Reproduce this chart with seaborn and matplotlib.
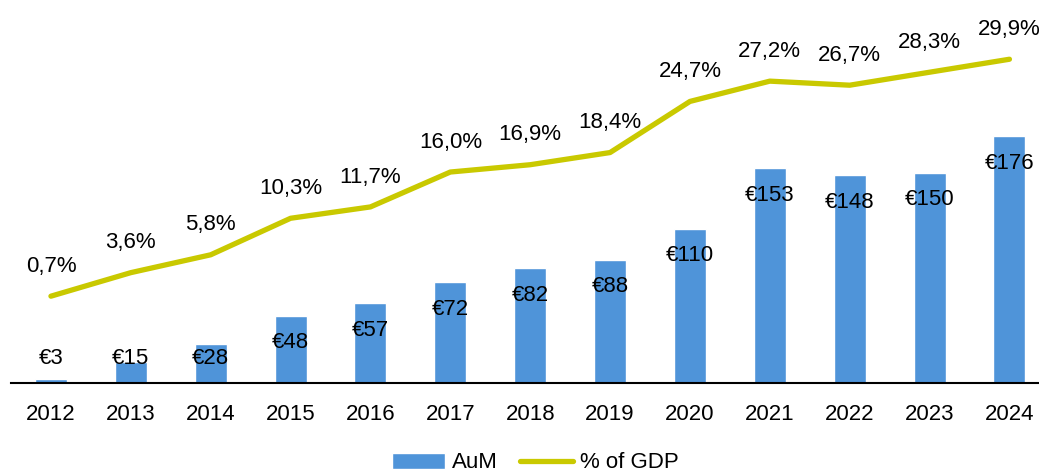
import pandas as pd
import seaborn as sns
import numpy as np
import matplotlib.pyplot as plt

years = ["2012", "2013", "2014", "2015", "2016", "2017", "2018",
         "2019", "2020", "2021", "2022", "2023", "2024"]
aum = [3, 15, 28, 48, 57, 72, 82, 88, 110, 153, 148, 150, 176]
gdp_pct = [0.7, 3.6, 5.8, 10.3, 11.7, 16.0, 16.9, 18.4, 24.7, 27.2, 26.7, 28.3, 29.9]

bar_color = "#4F94D9"
line_color = "#C9C900"

df = pd.DataFrame({"Year": years, "AuM": aum, "GDP": gdp_pct, "pos": np.arange(len(years))})

sns.set_style("white")
plt.rcParams['font.family'] = ['Liberation Sans', 'DejaVu Sans']
plt.rcParams['font.size'] = 16
plt.rcParams['text.color'] = 'black'
plt.rcParams['xtick.color'] = 'black'

fig = plt.figure(figsize=(10.39, 4.75), dpi=100)
ax = fig.add_axes([11 / 1039, 92 / 475, 1028 / 1039, 383 / 475])

sns.barplot(data=df, x="Year", y="AuM", color=bar_color, width=0.4,
            saturation=1, label="AuM", ax=ax)
ax.set_xlim(-0.5, 12.37)
ax.set_ylim(0, 273)
ax.set(xlabel="", ylabel="")
ax.set_yticks([])
for s in ["top", "right", "left"]:
    ax.spines[s].set_visible(False)
ax.spines["bottom"].set_color("black")
ax.spines["bottom"].set_linewidth(1.5)
ax.tick_params(axis="x", length=0, pad=15, labelsize=16, labelcolor="black")

for i, v in enumerate(aum):
    ax.text(i, max(v - 19.3, 17.8), f"€{v}", ha="center", va="center",
            fontsize=16, color="black")

ax2 = ax.twinx()
sns.lineplot(data=df, x="pos", y="GDP", color=line_color, linewidth=3.8,
             label="% of GDP", ax=ax2)
ax2.set_ylim(-10.0, 37.2)
ax2.set_xlim(-0.5, 12.37)
ax2.set_yticks([])
ax2.set(xlabel="", ylabel="")
for s in ["top", "right", "left", "bottom"]:
    ax2.spines[s].set_visible(False)
ax2.lines[0].set_solid_capstyle("round")

for i, v in enumerate(gdp_pct):
    ax2.annotate(f"{v:.1f}%".replace(".", ","), (i, v), xytext=(0, 21.5),
                 textcoords="offset points", ha="center", va="center",
                 fontsize=16, color="black")

h1, l1 = ax.get_legend_handles_labels()
h2, l2 = ax2.get_legend_handles_labels()
for a in (ax, ax2):
    if a.get_legend() is not None:
        a.get_legend().remove()

fig.legend(h1 + h2, l1 + l2, loc="center", bbox_to_anchor=(535 / 1039, 12 / 475),
           ncol=2, frameon=False, fontsize=16, handlelength=2.4,
           handletextpad=0.3, columnspacing=1.0)

fig.savefig("out.png", dpi=100)
